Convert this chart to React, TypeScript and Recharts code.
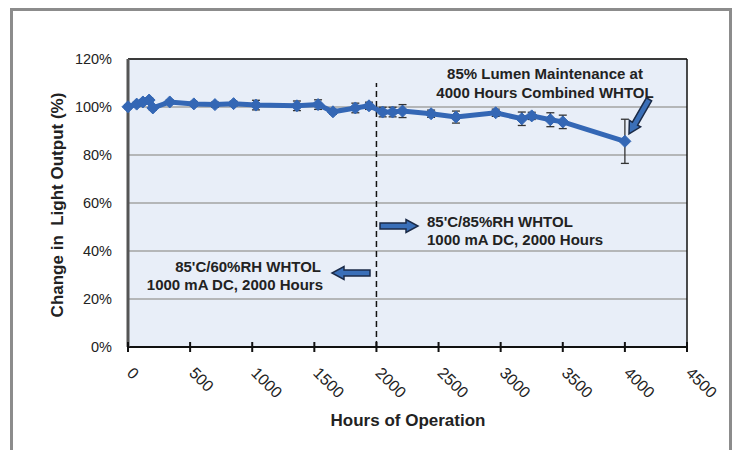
import React from 'react';
import { LineChart, Line, XAxis, YAxis, CartesianGrid, ErrorBar, ReferenceLine } from 'recharts';

const hours = [0, 70, 120, 170, 200, 336, 530, 700, 850, 1030, 1360, 1530, 1650, 1830, 1940, 2050, 2130, 2210, 2440, 2640, 2960, 3170, 3250, 3400, 3500, 4000];
const output = [100.1, 101.2, 102.1, 102.9, 99.6, 102.1, 101.3, 101, 101.4, 100.8, 100.5, 101, 98, 99.6, 100.5, 97.9, 97.9, 98.3, 97.2, 95.8, 97.6, 95.1, 96.3, 94.7, 93.8, 85.7];
const errors = [0.8, 0.8, 1, 1, 1, 0.8, 1, 1, 1, 2, 2, 2, 1, 2, 1.5, 2, 2, 2.7, 1.5, 2.5, 1.5, 2.8, 1.5, 2.9, 2.8, 9.2];

const xTicks = [0, 500, 1000, 1500, 2000, 2500, 3000, 3500, 4000, 4500];
const yTicks = [0, 20, 40, 60, 80, 100, 120];

const data = hours.map((h, i) => ({ hours: h, output: output[i], err: errors[i] }));

const FONT = '"Liberation Sans", Arial, sans-serif';
const BLUE = '#3467b5';

const Diamond = (props: any) => {
  const { cx, cy, index } = props;
  const s = 6;
  return (
    <path key={'d' + index} d={`M${cx},${cy - s}L${cx + s},${cy}L${cx},${cy + s}L${cx - s},${cy}Z`} fill={BLUE} stroke={BLUE} />
  );
};

// rotated tick label + a tick mark that crosses the axis
const XTick = (props: any) => {
  const { x, y, payload } = props;
  return (
    <g>
      <line x1={x} x2={x} y1={y - 12} y2={y - 2} stroke="#111" strokeWidth={2} />
      <g transform={`translate(${x + 2},${y + 16}) rotate(45)`}>
        <text x={0} y={0} dy="0.35em" textAnchor="start" fontSize={16} fill="#222" fontFamily={FONT}>
          {payload.value}
        </text>
      </g>
    </g>
  );
};

// block arrow, tip at (tx,ty), pointing along angle
const Arrow = ({ tx, ty, angle, len }: { tx: number; ty: number; angle: number; len: number }) => {
  const h = 12, H = 6.5, w = 3;
  const pts = [[-len, -w], [-h, -w], [-h, -H], [0, 0], [-h, H], [-h, w], [-len, w]].map(p => p.join(',')).join(' ');
  return <polygon points={pts} transform={`translate(${tx},${ty}) rotate(${angle})`} fill="#3a6fb8" stroke="#1b2b48" strokeWidth={1.5} />;
};

const App: React.FC = () => {
  return (
    <div style={{ position: 'absolute', left: 0, top: 0, width: 739, height: 450, background: '#fff', overflow: 'hidden', fontFamily: FONT }}>
      <div style={{ position: 'absolute', left: 10, top: 8, width: 716, height: 470, border: '3px solid #8c8c8c' }} />
      <div style={{ position: 'absolute', left: 0, top: 0 }}>
        <LineChart width={739} height={450} data={data} margin={{ top: 59, right: 52, left: 0, bottom: 0 }}>
          <CartesianGrid vertical={false} stroke="#a3a3a3" strokeWidth={1.5} fill="#e8eef8" fillOpacity={1} />
          <XAxis
            type="number"
            dataKey="hours"
            domain={[0, 4500]}
            ticks={xTicks}
            interval={0}
            height={103}
            tickSize={5}
            tick={<XTick />}
            axisLine={{ stroke: '#111', strokeWidth: 2 }}
            tickLine={false}
          />
          <YAxis
            domain={[0, 120]}
            ticks={yTicks}
            width={128}
            tickLine={false}
            tickSize={14}
            tickFormatter={(v: number) => `${v}%`}
            tick={{ fontSize: 14.5, fill: '#222', fontFamily: FONT }}
            axisLine={{ stroke: '#555', strokeWidth: 3 }}
          />
          <ReferenceLine y={120} stroke="#111" strokeWidth={1.5} />
          <ReferenceLine x={4500} stroke="#111" strokeWidth={1.5} />
          <ReferenceLine
            segment={[{ x: 2000, y: 0 }, { x: 2000, y: 110 }]}
            stroke="#111"
            strokeWidth={1.5}
            strokeDasharray="6 4"
          />
          <Line
            dataKey="output"
            stroke={BLUE}
            strokeWidth={5}
            dot={Diamond}
            activeDot={false}
            isAnimationActive={false}
          >
            <ErrorBar dataKey="err" direction="y" width={4} stroke="#333" strokeWidth={1.3} />
          </Line>
        </LineChart>
      </div>
      <svg width={739} height={450} style={{ position: 'absolute', left: 0, top: 0, pointerEvents: 'none' }} fontFamily={FONT}>
        <text transform="translate(57,205) rotate(-90)" textAnchor="middle" dominantBaseline="central" fontSize={17} fontWeight="bold" fill="#222" style={{ whiteSpace: 'pre' }}>
          Change in  Light Output (%)
        </text>
        <text x={408} y={420} textAnchor="middle" dominantBaseline="central" fontSize={17} fontWeight="bold" fill="#222">
          Hours of Operation
        </text>
        <text x={545} y={73} textAnchor="middle" dominantBaseline="central" fontSize={15} fontWeight="bold" fill="#222">
          85% Lumen Maintenance at
        </text>
        <text x={545} y={92} textAnchor="middle" dominantBaseline="central" fontSize={15} fontWeight="bold" fill="#222">
          4000 Hours Combined WHTOL
        </text>
        <text x={427} y={221} dominantBaseline="central" fontSize={15} fontWeight="bold" fill="#222">
          85'C/85%RH WHTOL
        </text>
        <text x={427} y={239} dominantBaseline="central" fontSize={15} fontWeight="bold" fill="#222">
          1000 mA DC, 2000 Hours
        </text>
        <text x={321} y={266} textAnchor="end" dominantBaseline="central" fontSize={15} fontWeight="bold" fill="#222">
          85'C/60%RH WHTOL
        </text>
        <text x={323} y={284} textAnchor="end" dominantBaseline="central" fontSize={15} fontWeight="bold" fill="#222">
          1000 mA DC, 2000 Hours
        </text>
        <Arrow tx={418} ty={226} angle={0} len={38} />
        <Arrow tx={332} ty={273} angle={180} len={38} />
        <Arrow tx={629} ty={134} angle={120} len={40} />
      </svg>
    </div>
  );
};

export default App;
